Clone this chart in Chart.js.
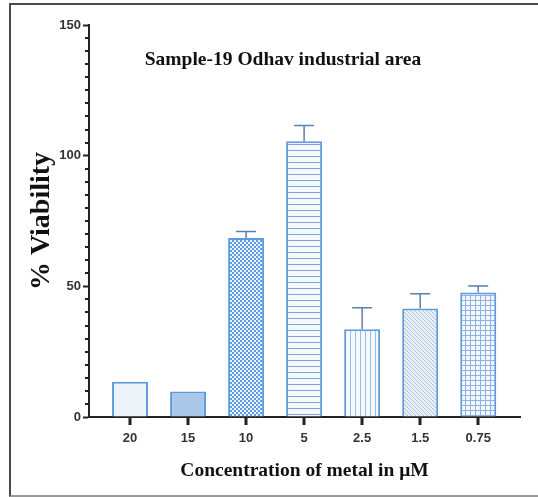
<!DOCTYPE html>
<html>
<head>
<meta charset="utf-8">
<script src="https://cdn.jsdelivr.net/npm/chart.js@4"></script>
<style>
  html, body { margin: 0; padding: 0; background: #fff; }
  #wrap { position: relative; width: 538px; height: 497px; overflow: hidden; }
  #frame { position: absolute; left: 9px; top: 3px; width: 540px; height: 490px;
           border: 2px solid #4a4a4a; border-bottom-color: #999; pointer-events: none; }
</style>
</head>
<body>
<div id="wrap">
  <canvas id="c" width="538" height="497"></canvas>
  <div id="frame"></div>
</div>
<script>
'use strict';

/* ── Data ─────────────────────────────────────────────── */
const categories = ['20', '15', '10', '5', '2.5', '1.5', '0.75'];
const viability = [13.5, 9.8, 68.5, 105.5, 33.6, 41.5, 47.6];
const errors = [0, 0, 2.5, 6, 8.2, 5.7, 2.5];
const yTicks = [0, 50, 100, 150];

/* ── Fill patterns ────────────────────────────────────── */
function pat(w, h, draw) {
  const c = document.createElement('canvas');
  c.width = w; c.height = h;
  const g = c.getContext('2d');
  draw(g);
  return g.createPattern(c, 'repeat');
}
const fills = [
  '#eef3f9',
  '#a9c7e8',
  pat(4, 4, g => {
    g.fillStyle = '#eaf2fc'; g.fillRect(0, 0, 4, 4);
    g.fillStyle = '#5f9be0'; g.fillRect(0, 0, 2, 2); g.fillRect(2, 2, 2, 2);
  }),
  pat(6, 6, g => {
    g.fillStyle = '#f5f9fe'; g.fillRect(0, 0, 6, 6);
    g.fillStyle = '#7aa7dc'; g.fillRect(0, 0, 6, 1);
  }),
  pat(5, 5, g => {
    g.fillStyle = '#f5f9fe'; g.fillRect(0, 0, 5, 5);
    g.fillStyle = '#9bbbe0'; g.fillRect(0, 0, 1, 5);
  }),
  pat(4, 4, g => {
    g.fillStyle = '#e9f1f6'; g.fillRect(0, 0, 4, 4);
    g.fillStyle = '#a9c3da';
    g.fillRect(0, 0, 1, 1); g.fillRect(1, 1, 1, 1); g.fillRect(2, 2, 1, 1); g.fillRect(3, 3, 1, 1);
  }),
  pat(5, 5, g => {
    g.fillStyle = '#f3f7fd'; g.fillRect(0, 0, 5, 5);
    g.fillStyle = '#8fb3e0'; g.fillRect(0, 0, 5, 1); g.fillRect(0, 0, 1, 5);
  })
];

/* ── Plugins ──────────────────────────────────────────── */
const extras = {
  id: 'extras',
  afterDatasetsDraw(chart) {
    const ctx = chart.ctx, y = chart.scales.y;
    const meta = chart.getDatasetMeta(0);
    ctx.save();
    ctx.strokeStyle = '#5b7fae';
    ctx.lineWidth = 1.5;
    meta.data.forEach((bar, i) => {
      if (!errors[i]) return;
      const top = y.getPixelForValue(viability[i] + errors[i]);
      ctx.beginPath();
      ctx.moveTo(bar.x, bar.y);
      ctx.lineTo(bar.x, top);
      ctx.moveTo(bar.x - 10, top);
      ctx.lineTo(bar.x + 10, top);
      ctx.stroke();
    });
    ctx.restore();
  },
  afterDraw(chart) {
    const ctx = chart.ctx, y = chart.scales.y;
    const left = chart.chartArea.left, bottom = chart.chartArea.bottom;
    const bars = chart.getDatasetMeta(0).data;
    ctx.save();
    ctx.fillStyle = '#222';
    // minor y ticks
    for (let v = 5; v < 150; v += 5) {
      if (v % 50 === 0) continue;
      const py = Math.round(y.getPixelForValue(v));
      ctx.fillRect(left - 4, py - 1, 4, 2);
    }
    // x category ticks, under each bar
    bars.forEach(b => {
      ctx.fillRect(Math.round(b.x) - 1.5, bottom, 3, 8);
    });
    // title inside plot
    ctx.fillStyle = '#111';
    ctx.font = 'bold 19.5px "Liberation Serif", serif';
    ctx.textAlign = 'center';
    ctx.textBaseline = 'middle';
    ctx.fillText('Sample-19 Odhav industrial area', 283, 60);
    ctx.restore();
  }
};

/* ── Chart ────────────────────────────────────────────── */
new Chart(document.getElementById('c'), {
  type: 'bar',
  data: {
    datasets: [{
      data: viability.map((v, i) => ({ x: i, y: v })),
      backgroundColor: fills,
      borderColor: '#5d9ae0',
      borderWidth: 2,
      borderSkipped: 'bottom',
      barPercentage: 0.62,
      categoryPercentage: 1
    }]
  },
  options: {
    responsive: false,
    animation: false,
    layout: { padding: { left: 25, top: 25, right: 18, bottom: 0 } },
    plugins: { legend: { display: false }, tooltip: { enabled: false } },
    scales: {
      x: {
        type: 'linear',
        offset: false,
        min: -0.707,
        max: 6.72,
        afterBuildTicks: s => { s.ticks = categories.map((c, i) => ({ value: i })); },
        afterFit: s => { s.height = 80; },
        ticks: {
          callback: v => categories[v],
          font: { family: '"Liberation Sans", Arial', size: 13, weight: 'bold' },
          color: '#333',
          padding: 6,
          maxRotation: 0
        },
        grid: { offset: false, drawOnChartArea: false, tickLength: 8, tickColor: 'rgba(0,0,0,0)' },
        border: { color: '#222', width: 2 },
        title: {
          display: true,
          text: 'Concentration of metal in μM',
          font: { family: '"Liberation Serif", serif', size: 19.5, weight: 'bold' },
          color: '#111',
          padding: { top: 0, bottom: 14 }
        }
      },
      y: {
        min: 0,
        max: 150,
        afterBuildTicks: s => { s.ticks = yTicks.map(v => ({ value: v })); },
        afterFit: s => { s.width = 64; },
        ticks: {
          font: { family: '"Liberation Sans", Arial', size: 13, weight: 'bold' },
          color: '#333',
          padding: 2
        },
        grid: { drawOnChartArea: false, tickLength: 6, tickWidth: 2, tickColor: '#222' },
        border: { color: '#222', width: 2 },
        title: {
          display: true,
          text: '% Viability',
          font: { family: '"Liberation Serif", serif', size: 28, weight: 'bold' },
          color: '#111',
          padding: { top: 0, bottom: 0 }
        }
      }
    }
  },
  plugins: [extras]
});
</script>
</body>
</html>
